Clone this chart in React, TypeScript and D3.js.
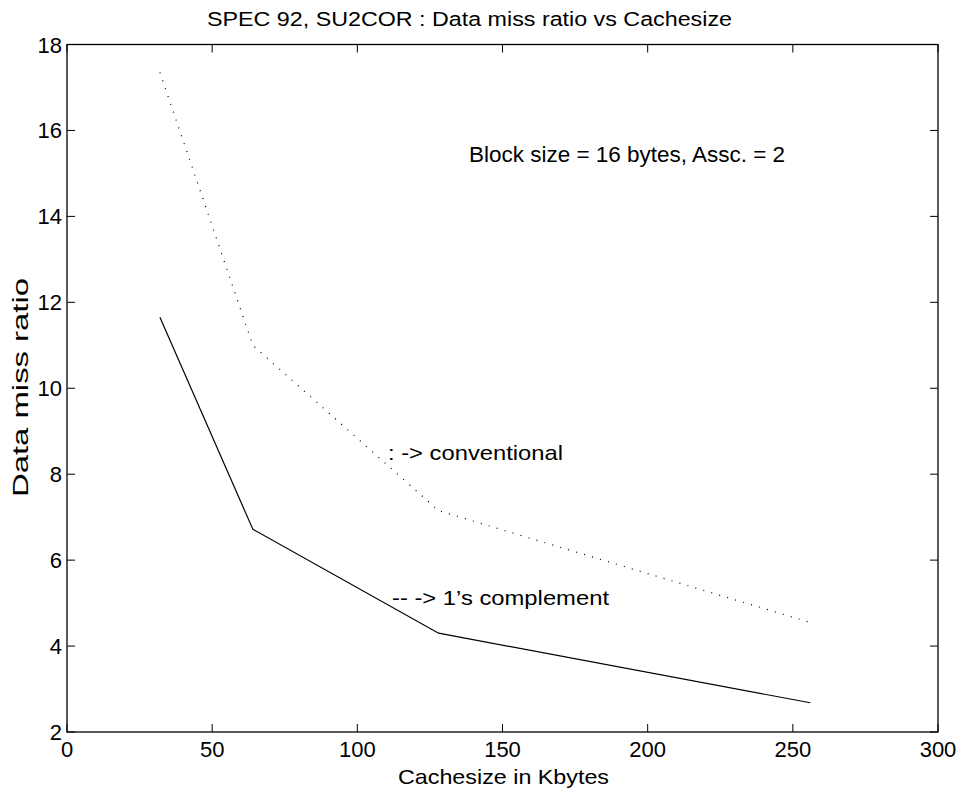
import React from "react";
import * as d3 from "d3";

const cacheSizes = [32, 64, 128, 256];
const conventional = [17.35, 11.0, 7.15, 4.55];
const onesComplement = [11.65, 6.72, 4.3, 2.68];
const xTicks = [0, 50, 100, 150, 200, 250, 300];
const yTicks = [2, 4, 6, 8, 10, 12, 14, 16, 18];

export default function App() {
  const W = 963, H = 793;
  const L = 67, R = 938, T = 44.5, B = 732;
  const x = d3.scaleLinear().domain([0, 300]).range([L, R]);
  const y = d3.scaleLinear().domain([2, 18]).range([B, T]);
  const line = d3.line<number>().x((_, i) => x(cacheSizes[i])).y((d) => y(d));
  const font = "Liberation Sans, Arial, Helvetica, sans-serif";
  const tl = 8;
  const fs = 21;
  return (
    <svg width={W} height={H} style={{ position: "absolute", left: 0, top: 0, background: "#fff" }} fontFamily={font}>
      <rect x={0} y={0} width={W} height={H} fill="#fff" />
      <path d={line(conventional) || ""} fill="none" stroke="#000" strokeWidth={1.2} strokeDasharray="1 7.3" />
      <path d={line(onesComplement) || ""} fill="none" stroke="#000" strokeWidth={1.2} />
      <rect x={L} y={T} width={R - L} height={B - T} fill="none" stroke="#000" strokeWidth={1.3} />
      {xTicks.map((t) => (
        <g key={"x" + t}>
          <line x1={x(t)} x2={x(t)} y1={B} y2={B - tl} stroke="#000" />
          <line x1={x(t)} x2={x(t)} y1={T} y2={T + tl} stroke="#000" />
          <text x={x(t)} y={B + 25} fontSize={22} textAnchor="middle">{t}</text>
        </g>
      ))}
      {yTicks.map((t) => (
        <g key={"y" + t}>
          <line x1={L} x2={L + tl} y1={y(t)} y2={y(t)} stroke="#000" />
          <line x1={R} x2={R - tl} y1={y(t)} y2={y(t)} stroke="#000" />
          <text x={L - 5} y={y(t) + 8} fontSize={22} textAnchor="end">{t}</text>
        </g>
      ))}
      <text x={207} y={26} fontSize={20} textLength={525} lengthAdjust="spacingAndGlyphs">SPEC 92, SU2COR : Data miss ratio vs Cachesize</text>
      <text x={398} y={784} fontSize={fs} textLength={211} lengthAdjust="spacingAndGlyphs">Cachesize in Kbytes</text>
      <text transform={`translate(28,497) rotate(-90)`} x={0} y={0} fontSize={22} textLength={219} lengthAdjust="spacingAndGlyphs">Data miss ratio</text>
      <text x={469} y={162} fontSize={22} textLength={316} lengthAdjust="spacingAndGlyphs">Block size = 16 bytes, Assc. = 2</text>
      <text x={388} y={460} fontSize={fs} textLength={175} lengthAdjust="spacingAndGlyphs">: -&gt; conventional</text>
      <text x={392} y={605} fontSize={fs} textLength={217} lengthAdjust="spacingAndGlyphs">-- -&gt; 1’s complement</text>
    </svg>
  );
}
